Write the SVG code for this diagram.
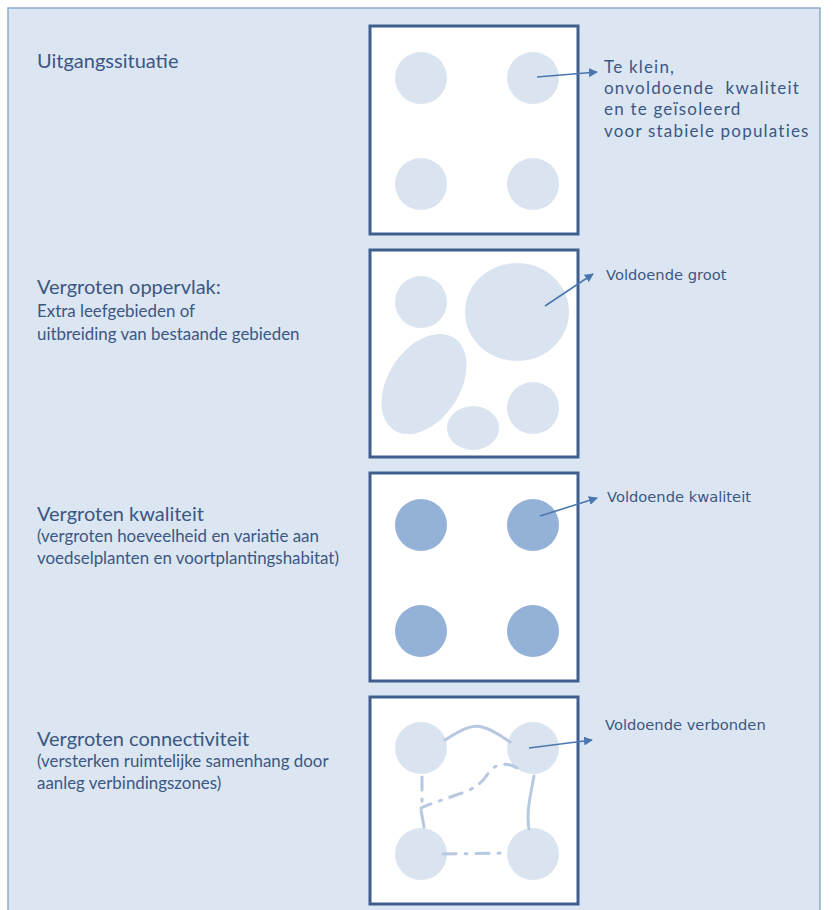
<svg xmlns="http://www.w3.org/2000/svg" width="835" height="910" viewBox="0 0 835 910">
<defs>
<marker id="ah" viewBox="0 0 10 10" refX="9" refY="5" markerWidth="9" markerHeight="9" markerUnits="userSpaceOnUse" orient="auto">
<path d="M0,0 L10,5 L0,10 z" fill="#4a77b0"/>
</marker>
<style>
.box{fill:#ffffff;stroke:#3e5f8e;stroke-width:3}
.lc{fill:#dae4f0}
.dc{fill:#94b2d8}
.arr{stroke:#4a77b0;stroke-width:1.6;fill:none;marker-end:url(#ah)}
.t1{font-family:Lato,"Liberation Sans",sans-serif;font-size:20px;fill:#3b5783}
.t2{font-family:Lato,"Liberation Sans",sans-serif;font-size:16.9px;fill:#3b5783}
.t4{font-family:Lato,"Liberation Sans",sans-serif;font-size:17px;letter-spacing:1.2px;fill:#3b5783}
.t3{font-family:"DejaVu Sans",Verdana,sans-serif;font-size:14.7px;fill:#3b5783}
.lk{fill:none;stroke:#b6c9e1;stroke-width:3;stroke-linecap:round}
.dd{stroke-dasharray:13 9 2 9}
</style>
</defs>
<rect x="8" y="8" width="812" height="910" fill="#dce6f2" stroke="#8fa9cc" stroke-width="1.5"/>

<g id="panel1">
<text class="t1" x="37" y="68">Uitgangssituatie</text>
<rect class="box" x="370" y="26" width="208" height="208"/>
<circle class="lc" cx="421" cy="78" r="26"/>
<circle class="lc" cx="533" cy="78" r="26"/>
<circle class="lc" cx="421" cy="184" r="26"/>
<circle class="lc" cx="533" cy="184" r="26"/>
<text class="t4" x="604" y="73">Te klein,</text>
<text class="t4" x="604" y="94" xml:space="preserve">onvoldoende  kwaliteit</text>
<text class="t4" x="604" y="115">en te geïsoleerd</text>
<text class="t4" x="604" y="137">voor stabiele populaties</text>
</g>

<g id="panel2">
<text class="t1" x="37" y="294">Vergroten oppervlak:</text>
<text class="t2" x="37" y="317">Extra leefgebieden of</text>
<text class="t2" x="37" y="340">uitbreiding van bestaande gebieden</text>
<rect class="box" x="370" y="250" width="208" height="207"/>
<circle class="lc" cx="421" cy="302" r="26"/>
<ellipse class="lc" cx="517" cy="312" rx="52" ry="49"/>
<ellipse class="lc" cx="424" cy="384" rx="55" ry="36" transform="rotate(-57 424 384)"/>
<ellipse class="lc" cx="473" cy="428" rx="26" ry="22"/>
<circle class="lc" cx="533" cy="408" r="26"/>
<text class="t3" x="606" y="280">Voldoende groot</text>
</g>

<g id="panel3">
<text class="t1" x="37" y="521">Vergroten kwaliteit</text>
<text class="t2" x="37" y="542">(vergroten hoeveelheid en variatie aan</text>
<text class="t2" x="37" y="564">voedselplanten en voortplantingshabitat)</text>
<rect class="box" x="370" y="473" width="208" height="208"/>
<circle class="dc" cx="421" cy="525" r="26"/>
<circle class="dc" cx="533" cy="525" r="26"/>
<circle class="dc" cx="421" cy="631" r="26"/>
<circle class="dc" cx="533" cy="631" r="26"/>
<text class="t3" x="607" y="502">Voldoende kwaliteit</text>
</g>

<g id="panel4">
<text class="t1" x="37" y="746">Vergroten connectiviteit</text>
<text class="t2" x="37" y="767">(versterken ruimtelijke samenhang door</text>
<text class="t2" x="37" y="789">aanleg verbindingszones)</text>
<rect class="box" x="370" y="697" width="208" height="207"/>
<circle class="lc" cx="421" cy="748" r="26"/>
<circle class="lc" cx="533" cy="748" r="26"/>
<circle class="lc" cx="421" cy="854" r="26"/>
<circle class="lc" cx="533" cy="854" r="26"/>
<text class="t3" x="605" y="730">Voldoende verbonden</text>
</g>

<g id="connectors">
<path class="lk" d="M445,740 C458,732 470,724 482,727 C494,730 502,737 510,742"/>
<path class="lk" d="M534,776 C531,793 526,811 529,829"/>
<path class="lk dd" d="M517,768 C508,762 496,763 489,772 C483,782 476,788 462,793 C448,798 432,803 421,808"/>
<path class="lk dd" d="M422,777 L422,805"/>
<path class="lk" d="M421,810 L424,827"/>
<path class="lk dd" d="M443,854 L508,853"/>
<path class="arr" d="M537,77 L597,72"/>
<path class="arr" d="M545,306 L593,274"/>
<path class="arr" d="M540,516 L597,498"/>
<path class="arr" d="M529,748 L592,740"/>
</g>
</svg>
